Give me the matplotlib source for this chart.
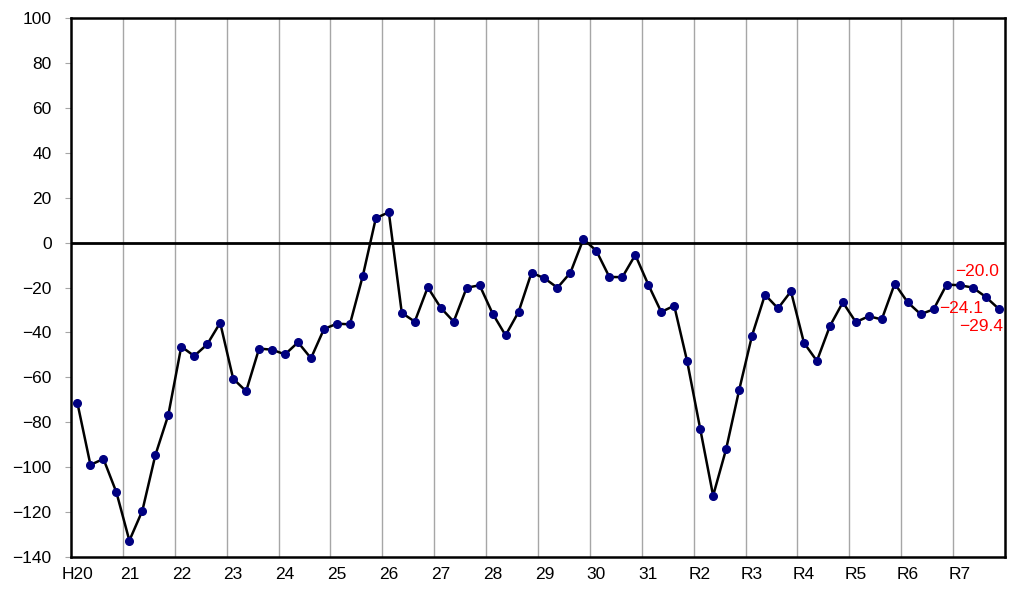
import matplotlib.pyplot as plt
import numpy as np

plt.rcParams['font.family'] = ['Liberation Sans', 'DejaVu Sans']

# Quarterly values, H20 Q1 .. R7 Q4
values = [
    -71.6, -99.0, -96.3, -111.2,      # H20
    -132.7, -119.4, -94.7, -76.8,     # 21
    -46.3, -50.5, -45.3, -35.7,       # 22
    -60.6, -66.2, -47.2, -47.7,       # 23
    -49.8, -44.4, -51.5, -38.5,       # 24
    -36.1, -36.4, -14.7, 10.9,        # 25
    13.5, -31.3, -35.2, -19.9,        # 26
    -29.0, -35.2, -20.1, -19.0,       # 27
    -31.6, -41.3, -30.9, -13.4,       # 28
    -15.9, -20.1, -13.4, 1.6,         # 29
    -3.7, -15.3, -15.4, -5.5,         # 30
    -18.7, -30.9, -28.1, -52.9,       # 31
    -82.8, -112.7, -92.0, -65.8,      # R2
    -41.4, -23.2, -29.3, -21.7,       # R3
    -44.6, -52.7, -37.2, -26.6,       # R4
    -35.4, -32.8, -34.2, -18.3,       # R5
    -26.6, -31.9, -29.7, -18.7,       # R6
    -19.0, -20.0, -24.1, -29.4,       # R7
]
year_labels = ['H20', '21', '22', '23', '24', '25', '26', '27', '28', '29',
               '30', '31', 'R2', 'R3', 'R4', 'R5', 'R6', 'R7']
labeled_idx = [69, 70, 71]
label_offsets = [(4, 16), (-24, -12), (-17, -18)]  # pixels

x = np.arange(len(values))

fig = plt.figure(figsize=(10.24, 5.98), dpi=100)
ax = fig.add_axes([71 / 1024, 41 / 598, 934 / 1024, 539 / 598])

# year separators
for k in range(len(year_labels) - 1):
    ax.axvline(4 * k + 3.5, color='#a6a6a6', lw=1.0, zorder=1)
ax.axhline(0, color='black', lw=2.0, zorder=2)

ax.plot(x, values, color='black', lw=1.8, zorder=3,
        marker='o', markersize=5.5, markerfacecolor='#000080',
        markeredgecolor='#000080')

for i, (dx, dy) in zip(labeled_idx, label_offsets):
    ax.annotate(f'{values[i]:.1f}'.replace('-', '\u2212'), (x[i], values[i]),
                xytext=(dx, dy), textcoords='offset pixels',
                ha='center', va='center', color='red', fontsize=12.5, zorder=5)

ax.set_xlim(-0.5, len(values) - 0.5)
ax.set_ylim(-140, 100)
ax.set_yticks(np.arange(-140, 101, 20))
ax.set_xticks(np.arange(0, len(values), 4))
ax.set_xticklabels(year_labels)
ax.tick_params(axis='x', length=0, labelsize=12.5, pad=7)
ax.tick_params(axis='y', length=4, width=0.8, color='#a6a6a6',
               labelsize=12.5, pad=10)
for s in ax.spines.values():
    s.set_linewidth(1.8)

fig.savefig('out.png', dpi=100)
